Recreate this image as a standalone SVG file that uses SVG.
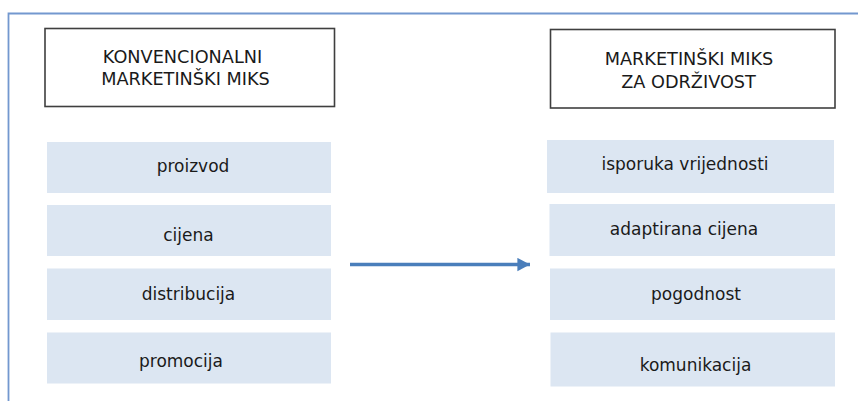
<svg xmlns="http://www.w3.org/2000/svg" width="858" height="401" viewBox="0 0 858 401">
<style>
.hdr{fill:#ffffff;stroke:#3f3f3f;stroke-width:1.6}
.item{fill:#dce6f2;stroke:none}
text{font-family:"DejaVu Sans","Liberation Sans",sans-serif;font-size:17px;fill:#1a1a1a;text-anchor:middle}
.ht{font-size:17.7px}
.frame{fill:none;stroke:#7398cf;stroke-width:1.8}
.conn{stroke:#4a7ebb;stroke-width:3.5;fill:none}
</style>
<defs>
<marker id="arr" markerWidth="4" markerHeight="4" refX="3.6" refY="2" orient="auto" markerUnits="strokeWidth" viewBox="0 0 4 4">
<path d="M0,0.1 L3.6,2 L0,3.9 Z" fill="#4a7ebb"/>
</marker>
</defs>
<rect width="858" height="401" fill="#ffffff"/>
<path class="frame" d="M8.5,401 L8.5,13.5 L858,13.5"/>
<g id="left-header">
<rect class="hdr" x="45" y="28.5" width="289.5" height="78"/>
<text class="ht" x="182.5" y="63">KONVENCIONALNI</text>
<text class="ht" x="185.5" y="85">MARKETINŠKI MIKS</text>
</g>
<g id="right-header">
<rect class="hdr" x="550.5" y="29.5" width="284.5" height="78.5"/>
<text class="ht" x="689" y="65">MARKETINŠKI MIKS</text>
<text class="ht" x="688.5" y="88">ZA ODRŽIVOST</text>
</g>
<g id="proizvod">
<rect class="item" x="47" y="142" width="284" height="51"/>
<text x="193" y="172">proizvod</text>
</g>
<g id="cijena">
<rect class="item" x="47" y="205" width="284" height="51"/>
<text x="188.5" y="240.5">cijena</text>
</g>
<g id="distribucija">
<rect class="item" x="47" y="268.5" width="284" height="51.5"/>
<text x="188.5" y="299.5">distribucija</text>
</g>
<g id="promocija">
<rect class="item" x="47" y="332.5" width="284" height="51"/>
<text x="181" y="366.5">promocija</text>
</g>
<g id="isporuka-vrijednosti">
<rect class="item" x="547" y="140" width="287" height="53"/>
<text x="685" y="170">isporuka vrijednosti</text>
</g>
<g id="adaptirana-cijena">
<rect class="item" x="549.5" y="204" width="285.5" height="52"/>
<text x="684" y="235">adaptirana cijena</text>
</g>
<g id="pogodnost">
<rect class="item" x="550" y="268.5" width="285" height="51.5"/>
<text x="696" y="299.5">pogodnost</text>
</g>
<g id="komunikacija">
<rect class="item" x="550.5" y="332.5" width="284.5" height="54"/>
<text x="695.5" y="370.5">komunikacija</text>
</g>
<g id="connectors">
<line class="conn" x1="350" y1="264.5" x2="530" y2="264.5" marker-end="url(#arr)"/>
</g>
</svg>
